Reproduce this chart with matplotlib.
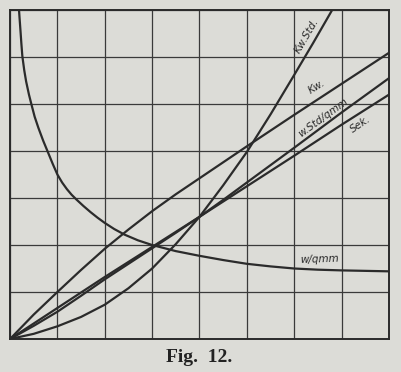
import matplotlib.pyplot as plt

# values (x: 0..8 columns, y: 0..7 rows)
kw_x = [0, 0.5, 1, 1.5, 2, 2.5, 3, 3.5, 4, 4.5, 5, 6, 7, 8]
kw_y = [0, 0.52, 1.0, 1.47, 1.92, 2.33, 2.72, 3.08, 3.42, 3.76, 4.1, 4.77, 5.43, 6.09]

kwstd_x = [0, 0.5, 1, 1.5, 2, 2.5, 3, 3.5, 4, 4.5, 5, 5.5, 6, 6.4, 6.8]
kwstd_y = [0, 0.11, 0.27, 0.47, 0.73, 1.08, 1.5, 2.02, 2.6, 3.27, 3.98, 4.78, 5.62, 6.3, 7.0]

wstd_x = [0, 0.5, 1, 1.5, 2, 2.5, 3, 3.5, 4, 4.5, 5, 6, 7, 8]
wstd_y = [0, 0.28, 0.58, 0.92, 1.27, 1.6, 1.93, 2.26, 2.6, 2.96, 3.33, 4.07, 4.82, 5.55]

sek_x = [0, 1, 2, 3, 4, 5, 6, 7, 8]
sek_y = [0, 0.66, 1.32, 1.96, 2.6, 3.25, 3.9, 4.56, 5.2]

wq_x = [0.19, 0.2, 0.22, 0.24, 0.26, 0.3, 0.34, 0.4, 0.45, 0.52, 0.6, 0.7, 0.79,
        0.9, 1.0, 1.1, 1.2, 1.3, 1.4, 1.55, 1.7, 1.85, 2.0, 2.2, 2.42, 2.7, 3.0,
        3.5, 4, 4.5, 5, 5.5, 6, 6.5, 7, 7.5, 8]
wq_y = [7.0, 6.85, 6.57, 6.28, 6.02, 5.72, 5.48, 5.2, 5.0, 4.73, 4.49, 4.22, 4.0,
        3.73, 3.5, 3.33, 3.19, 3.07, 2.97, 2.83, 2.7, 2.58, 2.47, 2.34, 2.22, 2.1, 2.0,
        1.87, 1.77, 1.68, 1.6, 1.545, 1.5, 1.475, 1.46, 1.45, 1.44]

paper = '#dcdcd7'
ink = '#2b2b2b'

fig = plt.figure(figsize=(4.01, 3.72), dpi=100, facecolor=paper)
ax = fig.add_axes([0.025, 0.0887, 0.945, 0.8843])
ax.set_facecolor(paper)

ax.set_xlim(0, 8)
ax.set_ylim(0, 7)
ax.set_xticks(range(0, 9))
ax.set_yticks(range(0, 8))
ax.tick_params(length=0, labelbottom=False, labelleft=False)
ax.grid(color='#3a3a3a', linewidth=0.9)
for s in ax.spines.values():
    s.set_linewidth(1.4)
    s.set_color(ink)

lw = 1.6
ax.plot(kw_x, kw_y, color=ink, lw=lw)
ax.plot(kwstd_x, kwstd_y, color=ink, lw=lw)
ax.plot(wstd_x, wstd_y, color=ink, lw=lw)
ax.plot(sek_x, sek_y, color=ink, lw=lw)
ax.plot(wq_x, wq_y, color=ink, lw=lw)

lab = dict(fontsize=7.5, style='italic', color=ink, ha='center', va='center')
ax.text(6.26, 6.45, 'Kw.Std.', rotation=60, **lab)
ax.text(6.47, 5.36, 'Kw.', rotation=32, **lab)
ax.text(6.61, 4.72, 'w.Std/qmm', rotation=36, **lab)
ax.text(7.39, 4.57, 'Sek.', rotation=34, **lab)
ax.text(6.53, 1.7, 'w/qmm', rotation=2, **lab)

fig.text(0.497, 0.04, 'Fig.  12.', ha='center', va='center', fontsize=14,
         fontweight='bold', family='Liberation Serif', color='#222222')

fig.savefig('out.png', dpi=100, facecolor=paper)
